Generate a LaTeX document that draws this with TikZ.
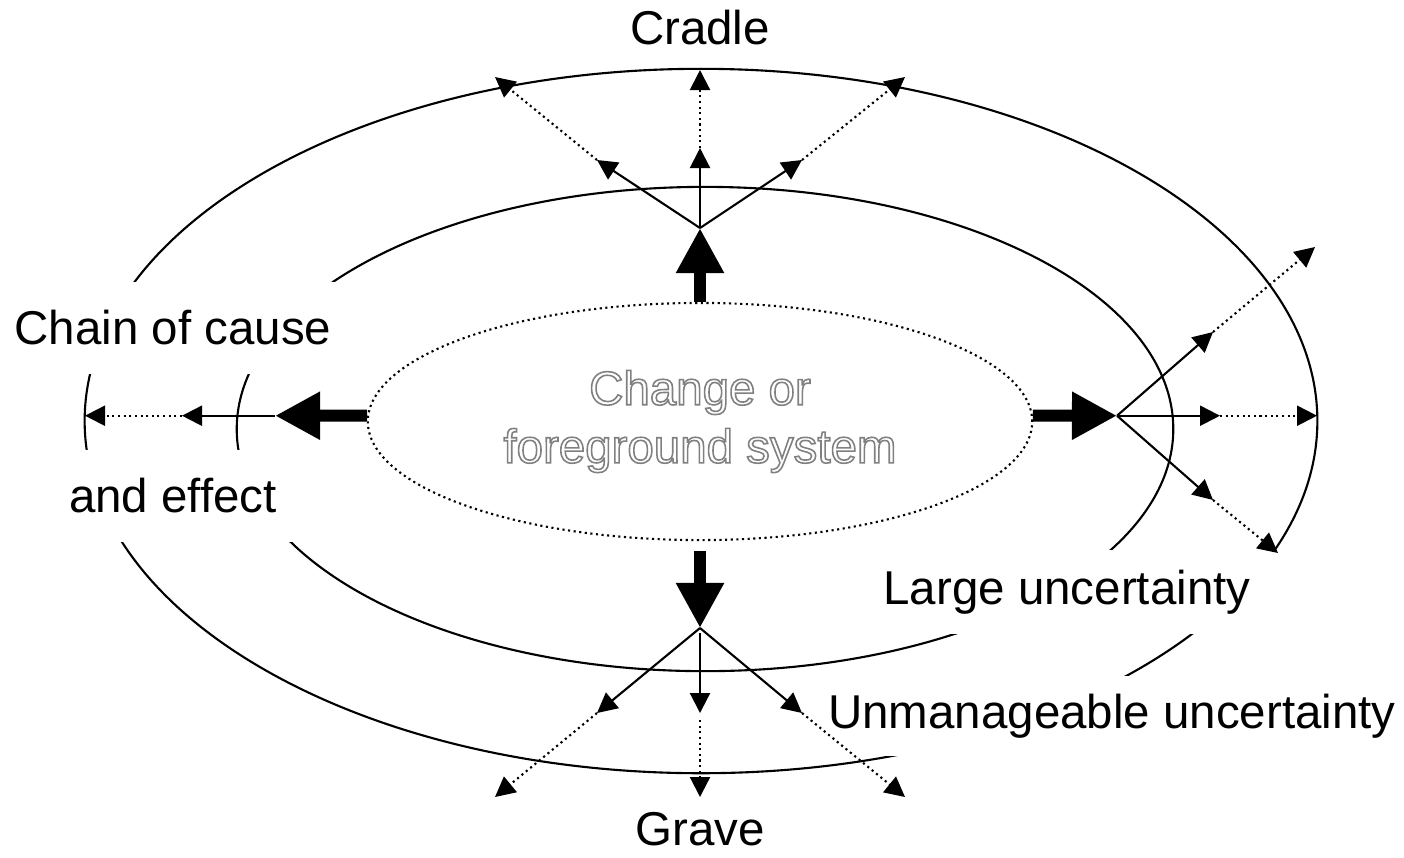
\documentclass[tikz,border=0pt]{standalone}
\usepackage{fontspec}
\setmainfont{Liberation Sans}
\usetikzlibrary{arrows.meta,shapes.geometric}
\newcommand\hollow[1]{\special{pdf:literal direct 0.45 w 1 Tr}#1\special{pdf:literal direct 0 Tr}}

\begin{document}
\begin{tikzpicture}[x=0.01cm,y=-0.01cm,line width=0.6pt,
	font=\fontsize{13.5}{16.5}\selectfont,
	cover/.style={fill=white,inner sep=0pt},
	ray/.style={-{Triangle[length=0.2cm,width=0.2cm]}},
	dotray/.style={ray,densely dotted},
	bigray/.style={line width=3.4pt,-{Triangle[length=0.45cm,width=0.45cm]}}]
	\useasboundingbox (0,0) rectangle (1404,857);
	\draw (701,421) ellipse [x radius=6.16cm,y radius=3.52cm];
	\draw (705,429) ellipse [x radius=4.68cm,y radius=2.42cm];
	\node[draw,densely dotted,ellipse,inner sep=0pt,minimum width=6.64cm,minimum height=2.37cm,
		align=center,text=gray] (core) at (700,421.5) {\hollow{Change or}\\\hollow{foreground system}};

	\node[cover,minimum width=3.5cm,minimum height=0.92cm] (chain) at (173,328) {Chain of cause};
	\node[cover,minimum width=2.6cm,minimum height=0.92cm] (effect) at (173,496) {and effect};
	\node[cover,minimum width=4.35cm,minimum height=0.83cm] (large) at (1067,592) {Large uncertainty};
	\node[cover,minimum width=5.9cm,minimum height=0.8cm] (wild) at (1112,716) {Unmanageable uncertainty};
	\node (cradle) at (700,28) {Cradle};
	\node (grave) at (700,829) {Grave};

	\coordinate (up) at (700,228);
	\coordinate (u1) at (597,160);
	\coordinate (u2) at (700,148);
	\coordinate (u3) at (802,160);
	\coordinate (uu1) at (495,77);
	\coordinate (uu2) at (700,70);
	\coordinate (uu3) at (905,77);
	\coordinate (dn) at (700,628);
	\coordinate (d1) at (597,713);
	\coordinate (d2) at (700,713);
	\coordinate (d3) at (802,713);
	\coordinate (dd1) at (495,797);
	\coordinate (dd2) at (700,797);
	\coordinate (dd3) at (905,797);
	\coordinate (rt) at (1117,415.7);
	\coordinate (r1) at (1213,332);
	\coordinate (r2) at (1220,415.7);
	\coordinate (r3) at (1213,500);
	\coordinate (rr1) at (1315,247);
	\coordinate (rr2) at (1317,415.7);
	\coordinate (rr3) at (1278,553);
	\coordinate (lt) at (275,415.7);
	\coordinate (l1) at (182,415.7);
	\coordinate (ll1) at (85,415.7);

	\path (core.north) edge[bigray] (up)
		(core.south) edge[bigray,shorten <=0.1cm] (dn)
		(core.1) edge[bigray] (rt)
		(core.179) edge[bigray] (lt);
	\path (up) edge[ray] (u1) (up) edge[ray] (u2) (up) edge[ray] (u3)
		(u1) edge[dotray] (uu1) (u2) edge[dotray] (uu2) (u3) edge[dotray] (uu3);
	\path (dn) edge[ray] (d1) (dn) edge[ray,shorten <=0.05cm] (d2) (dn) edge[ray] (d3)
		(d1) edge[dotray] (dd1) (d2) edge[dotray,shorten <=0.07cm] (dd2) (d3) edge[dotray] (dd3);
	\path (rt) edge[ray] (r1) (rt) edge[ray] (r2) (rt) edge[ray] (r3)
		(r1) edge[dotray] (rr1) (r2) edge[dotray] (rr2) (r3) edge[dotray] (rr3);
	\path (lt) edge[ray] (l1) (l1) edge[dotray] (ll1);
\end{tikzpicture}
\end{document}
